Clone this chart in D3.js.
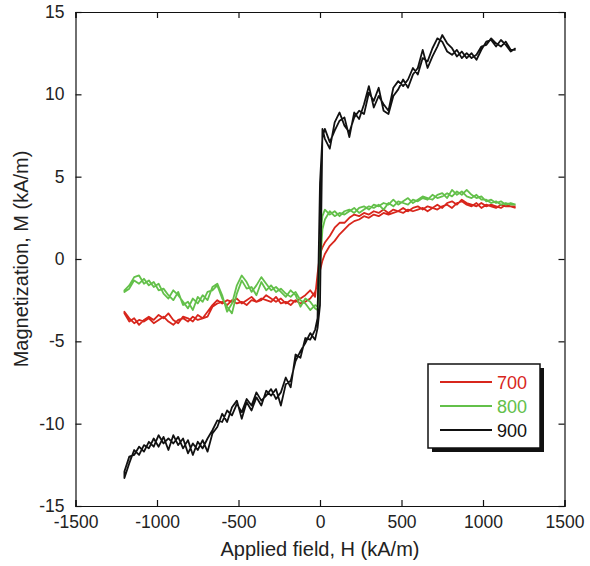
<!DOCTYPE html>
<html>
<head>
<meta charset="utf-8">
<script src="https://cdn.jsdelivr.net/npm/d3@7"></script>
<style>
  body { margin: 0; background: #fff; }
  text { font-family: "Liberation Sans", Arial, sans-serif; }
</style>
</head>
<body>
<div id="chart"></div>
<script>
// applied field grid (kA/m), shared by every branch
const field = [
  -1200, -1170, -1140, -1110, -1080, -1050, -1020, -990, -960, -930,
  -900, -870, -840, -810, -780, -750, -720, -690, -660, -630,
  -600, -570, -540, -510, -480, -450, -420, -390, -360, -330,
  -300, -270, -240, -210, -180, -150, -120, -90, -60, -30,
  -15, 0, 15,
  30, 60, 90, 120, 150, 180, 210, 240, 270, 300,
  330, 360, 390, 420, 450, 480, 510, 540, 570, 600,
  630, 660, 690, 720, 750, 780, 810, 840, 870, 900,
  930, 960, 990, 1020, 1050, 1080, 1110, 1140, 1170, 1200
];

// magnetization (kA/m), increasing-field branch and decreasing-field branch
const m700Up = [
  -3.2, -3.6, -3.9, -3.7, -3.8, -3.6, -3.9, -3.7, -3.5, -3.8,
  -4.0, -3.7, -3.6, -3.8, -3.5, -3.7, -3.6, -3.5, -2.9, -2.7,
  -2.6, -2.8, -2.5, -2.7, -2.6, -2.8, -2.5, -2.6, -2.4, -2.5,
  -2.6, -2.3, -2.7, -2.6, -2.8, -2.5, -2.7, -2.6, -2.4, -2.0,
  -1.5, -0.7, -0.1,
  0.3, 0.8, 1.1, 1.5, 1.8, 2.1, 2.3, 2.4, 2.6, 2.5,
  2.7, 2.6, 2.8, 2.7, 2.8, 2.9, 2.8, 3.0, 2.9, 3.0,
  3.1, 2.9, 3.1, 3.0, 3.2, 3.3, 3.1, 3.4, 3.5, 3.3,
  3.2, 3.4, 3.1, 3.3, 3.2, 3.1, 3.3, 3.2, 3.2, 3.1
];
const m700Down = [
  -3.3, -3.8, -3.6, -4.0, -3.7, -3.5, -3.7, -3.4, -3.6, -3.3,
  -3.7, -3.9, -3.5, -3.6, -3.8, -3.4, -3.6, -3.2, -2.8, -2.5,
  -2.7, -2.5, -2.6, -2.4, -2.7, -2.5, -2.3, -2.6, -2.5, -2.2,
  -2.4, -2.6, -2.4, -2.7, -2.5, -2.6, -2.4, -2.2, -1.9, -2.3,
  -0.9, 0.3, 0.7,
  1.0, 1.4, 1.9, 2.2, 2.2, 2.5, 2.7, 2.6, 2.8, 2.7,
  2.9, 2.8, 3.0, 2.8, 3.0, 2.9, 3.1, 2.9, 3.1, 3.2,
  3.0, 3.2, 3.1, 3.3, 3.1, 3.4, 3.5, 3.3, 3.6, 3.4,
  3.3, 3.2, 3.4, 3.2, 3.3, 3.2, 3.1, 3.3, 3.2, 3.2
];
const m800Up = [
  -1.9, -1.6, -1.1, -1.0, -1.5, -1.3, -1.7, -1.5, -2.1, -2.4,
  -1.9, -2.2, -2.6, -3.0, -2.4, -2.7, -2.2, -2.5, -1.7, -1.5,
  -2.2, -3.2, -2.7, -1.6, -1.0, -1.4, -2.0, -1.6, -1.1, -1.5,
  -1.9, -1.7, -2.0, -2.3, -1.9, -2.2, -2.9, -2.4, -2.6, -3.0,
  -3.1, -0.5, 1.8,
  2.4, 2.9, 2.6, 2.8, 2.7, 2.9, 3.1, 2.8, 3.0, 3.2,
  3.1, 3.3, 3.0, 3.4, 3.2, 3.5, 3.4, 3.3, 3.6, 3.5,
  3.7, 3.6, 3.9, 3.7, 3.8, 4.0, 3.8, 4.1, 3.9, 4.2,
  3.9, 3.7, 3.8, 3.5, 3.6, 3.4, 3.5, 3.3, 3.4, 3.3
];
const m800Down = [
  -2.0, -1.8, -1.3, -1.5, -1.2, -1.6, -1.4, -1.9, -1.8, -2.2,
  -2.5, -2.0, -2.8, -2.6, -3.1, -2.3, -2.6, -2.0, -1.9, -1.6,
  -2.4, -2.9, -3.3, -2.1, -1.3, -1.8, -1.7, -2.2, -1.4, -1.9,
  -1.6, -2.0, -1.8, -2.1, -2.3, -2.0, -2.5, -2.7, -3.1, -2.8,
  -2.9, 1.2, 2.6,
  3.0, 2.7, 2.9, 2.6, 2.9, 3.0, 2.8, 3.1, 3.2, 3.0,
  3.3, 3.2, 3.4, 3.3, 3.6, 3.3, 3.5, 3.7, 3.4, 3.6,
  3.8, 3.7, 3.6, 3.9, 4.0, 3.7, 4.2, 3.9, 4.1, 3.8,
  3.7, 3.9, 3.6, 3.6, 3.4, 3.5, 3.3, 3.4, 3.3, 3.3
];
const m900Up = [
  -13.3, -12.4, -11.6, -11.9, -11.3, -11.5, -10.9, -11.4, -10.8, -11.6,
  -10.7, -11.3, -10.9, -11.8, -11.2, -11.6, -11.0, -11.7, -10.6, -10.2,
  -9.4, -9.9, -9.0, -8.6, -9.7, -8.7, -9.2, -8.4, -8.9, -8.0,
  -8.3, -7.9, -8.9, -7.6, -7.4, -6.2, -5.6, -5.1, -4.5, -4.9,
  -4.2, -2.8, 7.9,
  7.3, 6.7, 8.3, 8.9, 8.1, 7.7, 8.6, 9.0, 8.8, 10.1,
  9.6, 10.4, 9.0, 8.8, 9.9, 10.3, 10.9, 10.4, 11.2, 11.6,
  12.7, 11.6, 12.3, 12.9, 13.6, 13.1, 12.8, 12.3, 12.6, 12.2,
  12.5, 12.1, 12.7, 13.2, 13.3, 12.9, 13.3, 13.0, 12.6, 12.8
];
const m900Down = [
  -12.9, -12.0, -11.9, -11.4, -11.7, -11.1, -11.4, -10.7, -11.2, -10.9,
  -11.2, -10.8, -11.5, -11.0, -11.9, -11.1, -11.5, -10.9, -10.4, -9.8,
  -9.9, -9.2, -9.5, -8.8, -9.3, -8.5, -8.9, -8.1, -8.6, -8.3,
  -7.9, -8.5, -8.1, -7.2, -7.8, -5.8, -6.0, -4.8, -4.9, -4.3,
  -3.6, 4.6, 7.4,
  7.9, 7.1, 7.8, 8.4, 8.6, 7.4, 8.9, 8.5, 9.4, 10.5,
  9.2, 9.9, 9.4, 9.0, 10.4, 10.8, 10.5, 10.9, 11.6, 11.2,
  12.2, 12.0, 12.8, 13.4, 13.2, 12.6, 12.4, 12.7, 12.2, 12.5,
  12.2, 12.4, 12.9, 13.0, 13.4, 13.1, 12.9, 13.2, 12.7, 12.7
];

const seriesNames = ["700", "800", "900"];
const seriesColors = ["#d8261c", "#63c04a", "#111111"];
const xTicks = [-1500, -1000, -500, 0, 500, 1000, 1500];
const yTicks = [-15, -10, -5, 0, 5, 10, 15];

const branches = [[m700Down, m700Up], [m800Down, m800Up], [m900Down, m900Up]];

const W = 590, H = 566;
const margin = {top: 12, right: 25.5, bottom: 60, left: 75.5};

const svg = d3.select("#chart").append("svg")
    .attr("width", W).attr("height", H);

const x = d3.scaleLinear().domain([-1500, 1500]).range([margin.left, W - margin.right]);
const y = d3.scaleLinear().domain([-15, 15]).range([H - margin.bottom, margin.top]);

// plain hyphen for negatives, like the original figure
const fmt = d => String(d);

// data curves: decreasing branch from +H down, then increasing branch back up
const line = d3.line().x(d => x(d[0])).y(d => y(d[1]));
branches.forEach(([down, up], i) => {
    const loop = field.map((h, k) => [h, down[k]]).reverse()
        .concat(field.map((h, k) => [h, up[k]]));
    svg.append("path").datum(loop)
        .attr("d", line)
        .attr("fill", "none")
        .attr("stroke", seriesColors[i])
        .attr("stroke-width", 1.8)
        .attr("stroke-linejoin", "round");
});

// frame with inward ticks on all four sides
const tickLen = 6;
svg.append("g").attr("transform", `translate(0,${y(-15)})`)
    .call(d3.axisBottom(x).tickValues(xTicks).tickSize(-tickLen).tickPadding(10).tickFormat(fmt));
svg.append("g").attr("transform", `translate(0,${y(15)})`)
    .call(d3.axisTop(x).tickValues(xTicks).tickSize(-tickLen).tickFormat(""));
svg.append("g").attr("transform", `translate(${x(-1500)},0)`)
    .call(d3.axisLeft(y).tickValues(yTicks).tickSize(-tickLen).tickPadding(11).tickFormat(fmt));
svg.append("g").attr("transform", `translate(${x(1500)},0)`)
    .call(d3.axisRight(y).tickValues(yTicks).tickSize(-tickLen).tickFormat(""));

svg.selectAll(".domain").attr("stroke", "#111").attr("stroke-width", 1.2);
svg.selectAll(".tick line").attr("stroke", "#111").attr("stroke-width", 1.2);
svg.selectAll(".tick text")
    .style("font-family", '"Liberation Sans", Arial, sans-serif')
    .style("font-size", "17.5px").attr("fill", "#222");

// axis titles
svg.append("text")
    .attr("x", x(0)).attr("y", 556)
    .attr("text-anchor", "middle")
    .style("font-size", "20px").attr("fill", "#222")
    .text("Applied field, H (kA/m)");
svg.append("text")
    .attr("transform", `translate(28,${y(0)}) rotate(-90)`)
    .attr("text-anchor", "middle")
    .style("font-size", "20px").attr("fill", "#222")
    .text("Magnetization, M (kA/m)");

// legend with drop shadow
const lg = {x: 428, y: 364, w: 112, h: 84};
svg.append("rect")
    .attr("x", lg.x + 4).attr("y", lg.y + 4).attr("width", lg.w).attr("height", lg.h)
    .attr("fill", "#111");
svg.append("rect")
    .attr("x", lg.x).attr("y", lg.y).attr("width", lg.w).attr("height", lg.h)
    .attr("fill", "#fff").attr("stroke", "#111").attr("stroke-width", 1.5);
seriesNames.forEach((name, i) => {
    const yy = lg.y + 18 + i * 24;
    svg.append("line")
        .attr("x1", lg.x + 12).attr("x2", lg.x + 64)
        .attr("y1", yy).attr("y2", yy)
        .attr("stroke", seriesColors[i]).attr("stroke-width", 1.8);
    svg.append("text")
        .attr("x", lg.x + 69).attr("y", yy + 6.5)
        .style("font-size", "18px")
        .attr("fill", seriesColors[i])
        .text(name);
});
</script>
</body>
</html>
